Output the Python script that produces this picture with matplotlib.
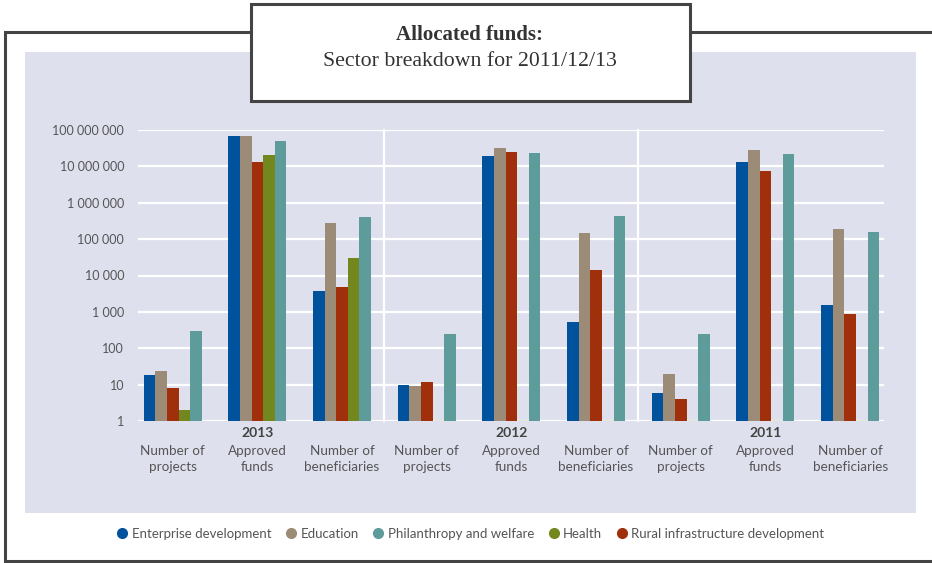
import numpy as np
import matplotlib.pyplot as plt
from matplotlib.patches import Rectangle
from matplotlib.lines import Line2D
from matplotlib.ticker import FuncFormatter
from matplotlib.transforms import blended_transform_factory

# values (log scale)
years = ['2013', '2012', '2011']
metrics = ['Number of\nprojects', 'Approved\nfunds', 'Number of\nbeneficiaries']

enterprise = [18, 70000000, 3800, 10, 19000000, 540, 6, 13000000, 1550]
education = [24, 70000000, 275000, 9, 33000000, 146000, 19, 29000000, 187000]
rural = [8, 13500000, 4800, 12, 25500000, 14000, 4, 7700000, 880]
health = [2, 20000000, 30000, 0, 0, 0, 0, 0, 0]
philanthropy = [300, 51000000, 400000, 250, 24000000, 425000, 250, 22500000, 156000]

# bar order inside each group
series = [
    ('Enterprise development', enterprise, '#00529c'),
    ('Education', education, '#9c8c77'),
    ('Rural infrastructure development', rural, '#a0300c'),
    ('Health', health, '#73871f'),
    ('Philanthropy and welfare', philanthropy, '#5d9c9b'),
]
legend_order = ['Enterprise development', 'Education', 'Philanthropy and welfare',
                'Health', 'Rural infrastructure development']

panel_col = '#dee0ee'
text_col = '#555555'
sans = ['Lato', 'DejaVu Sans']
serif = ['Liberation Serif', 'DejaVu Serif']

W, H = 932, 563
fig = plt.figure(figsize=(W / 100, H / 100), dpi=100)

# background drawing layer in pixel coords
bg = fig.add_axes([0, 0, 1, 1])
bg.set_xlim(0, W)
bg.set_ylim(H, 0)
bg.axis('off')
bg.add_patch(Rectangle((4.5, 32), 960, 529, facecolor='white', edgecolor='#444444', lw=2.2))
bg.add_patch(Rectangle((25, 52), 891, 461, facecolor=panel_col, edgecolor='none'))
bg.add_patch(Rectangle((250.5, 4), 439, 97, facecolor='white', edgecolor='#444444', lw=2.2, zorder=5))
bg.text(470, 35, 'Allocated funds:', ha='center', va='center', fontsize=15,
        fontweight='bold', family=serif, color='#333333', zorder=6)
bg.text(470, 62, 'Sector breakdown for 2011/12/13', ha='center', va='center', fontsize=15.7,
        family=serif, color='#333333', zorder=6)

# main axes
ax = fig.add_axes([138 / W, 1 - 421 / H, (884 - 138) / W, (421 - 130) / H])
ax.set_facecolor('none')
ax.set_yscale('log')
ax.set_ylim(1, 1e8)

x = np.arange(9)
bw = 0.137
for i, (name, vals, col) in enumerate(series):
    vals = np.array(vals, dtype=float)
    pos = x + (i - 2) * bw
    has = vals > 0
    ax.bar(pos[has], vals[has] - 1, bottom=1, width=bw, color=col, zorder=3)
    if (~has).any():
        ax.bar(pos[~has], 0, bottom=1, width=bw, color=col, edgecolor=col, lw=1, zorder=3)

ax.set_xlim(-0.41, 8.4)
ax.grid(axis='y', color='white', lw=1.6, zorder=0)
ax.set_axisbelow(True)
for sep in [2.5, 5.5]:
    ax.plot([sep, sep], [1, 1e8], color='white', lw=1.6, zorder=1, clip_on=False)
for s in ax.spines.values():
    s.set_visible(False)

ax.yaxis.set_major_formatter(FuncFormatter(lambda v, p: f'{int(round(v)):,}'.replace(',', ' ')))
ax.yaxis.set_minor_locator(plt.NullLocator())
ax.set_yticks([10 ** k for k in range(9)])
ax.tick_params(axis='y', length=0, pad=10, labelsize=9, labelcolor=text_col)
for lab in ax.get_yticklabels():
    lab.set_family(sans)
ax.set_xticks([])

tr = blended_transform_factory(ax.transData, ax.transAxes)
px = 1 / (421 - 130)
for g, yr in enumerate(years):
    ax.text(3 * g + 1, -12 * px, yr, transform=tr, ha='center', va='center',
            fontsize=10, fontweight='bold', family=sans, color='#444444')
for k in range(9):
    ax.text(k, -24 * px, metrics[k % 3], transform=tr, ha='center', va='top',
            fontsize=9.7, family=sans, color=text_col, linespacing=1.4)

handles = []
for name in legend_order:
    col = [c for n, v, c in series if n == name][0]
    handles.append(Line2D([], [], marker='o', ls='none', color=col, markersize=7))
fig.legend(handles, legend_order, loc='center', bbox_to_anchor=(470 / W, 1 - 534 / H),
           ncol=5, frameon=False, handletextpad=0.2, columnspacing=1.0, handlelength=1.0,
           prop={'family': sans, 'size': 9.5}, labelcolor=text_col)

fig.savefig('out.png', dpi=100)
